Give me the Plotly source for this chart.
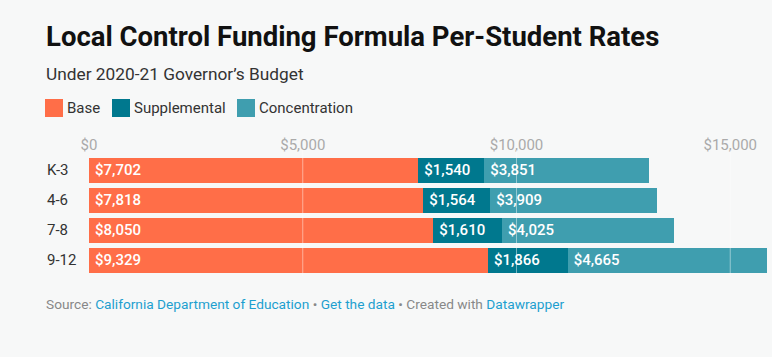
import plotly.graph_objects as go

categories = ["K-3", "4-6", "7-8", "9-12"]
series_names = ["Base", "Supplemental", "Concentration"]
base = [7702, 7818, 8050, 9329]
supplemental = [1540, 1564, 1610, 1866]
concentration = [3851, 3909, 4025, 4665]
tick_vals = [0, 5000, 10000, 15000]
tick_text = ["$0", "$5,000", "$10,000", "$15,000"]
colors = ["#ff6e48", "#00788e", "#3f9eaf"]

series = [base, supplemental, concentration]
totals = [sum(v) for v in zip(*series)]

FONT = "Roboto"
BG = "#f7f8f8"

fig = go.Figure()
for name, vals, col in zip(series_names, series, colors):
    fig.add_trace(go.Bar(
        y=categories, x=vals, name=name, orientation="h",
        marker=dict(color=col, line=dict(width=0)),
        text=[f"\u2009${v:,}" for v in vals],
        textposition="inside", insidetextanchor="start",
        textfont=dict(family=FONT, size=15, color="white", weight=500),
        showlegend=False, hoverinfo="skip",
    ))

W, H = 772, 357
L, R, T, B = 89, 5, 155, 82
pw, ph = W - L - R, H - T - B

def px(xp):
    return (xp - L) / pw

def py(yp):
    return (H - B - yp) / ph

annotations = []
# title & subtitle
annotations.append(dict(text="<b>Local Control Funding Formula Per-Student Rates</b>",
                        x=px(44), y=py(36), xref="paper", yref="paper",
                        xanchor="left", yanchor="middle", showarrow=False,
                        font=dict(family=FONT, size=27.5, color="#111")))
annotations.append(dict(text="Under 2020-21 Governor’s Budget",
                        x=px(44), y=py(74), xref="paper", yref="paper",
                        xanchor="left", yanchor="middle", showarrow=False,
                        font=dict(family=FONT, size=17.3, color="#333")))
# legend
shapes = []
leg_x = [45, 112, 237]
for name, col, lx in zip(series_names, colors, leg_x):
    shapes.append(dict(type="rect", xref="paper", yref="paper",
                       x0=px(lx), x1=px(lx + 18), y0=py(117), y1=py(99),
                       fillcolor=col, line=dict(width=0)))
    annotations.append(dict(text=name, x=px(lx + 20), y=py(107.5), xref="paper", yref="paper",
                            xanchor="left", yanchor="middle", showarrow=False,
                            font=dict(family=FONT, size=15, color="#333")))
# category labels
for c in categories:
    annotations.append(dict(text=c, x=px(45), y=c, xref="paper", yref="y",
                            xanchor="left", yanchor="middle", showarrow=False,
                            font=dict(family=FONT, size=15, color="#333")))
# footer
link = "#1d9fcf"
annotations.append(dict(
    text=(f"Source: <span style='color:{link}'>California Department of Education</span> • "
          f"<span style='color:{link}'>Get the data</span> • Created with "
          f"<span style='color:{link}'>Datawrapper</span>"),
    x=px(44), y=py(304), xref="paper", yref="paper",
    xanchor="left", yanchor="middle", showarrow=False,
    font=dict(family=FONT, size=13.7, color="#888")))

# grid lines above bars
for tv in tick_vals[1:]:
    shapes.append(dict(type="line", xref="x", yref="paper", x0=tv, x1=tv,
                       y0=py(276), y1=py(150),
                       line=dict(color="rgba(255,255,255,0.45)", width=1), layer="above"))

fig.update_layout(
    width=W, height=H, barmode="stack", bargap=5/30,
    margin=dict(l=L, r=R, t=T, b=B, pad=0),
    paper_bgcolor=BG, plot_bgcolor=BG,
    font=dict(family=FONT),
    xaxis=dict(range=[0, max(totals)], side="top", tickvals=tick_vals, ticktext=tick_text,
               showgrid=False, zeroline=False, showline=False, ticks="",
               ticklabelstandoff=1,
               tickfont=dict(family=FONT, size=15, color="#aaa"), fixedrange=True),
    yaxis=dict(categoryorder="array", categoryarray=categories, autorange="reversed",
               showticklabels=False, showgrid=False, zeroline=False, fixedrange=True),
    annotations=annotations, shapes=shapes,
    uniformtext=dict(mode=False),
)

fig.write_html("out.html", config={"displayModeBar": False},
               post_script="document.body.style.margin='0';document.body.style.overflow='hidden';document.body.style.background='" + BG + "';")
